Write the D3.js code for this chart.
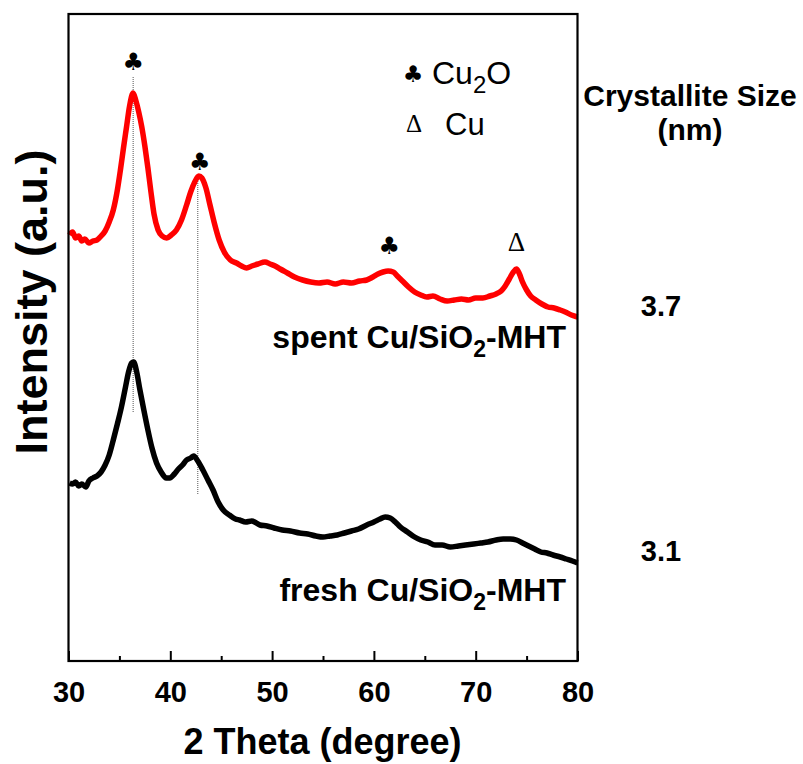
<!DOCTYPE html>
<html><head><meta charset="utf-8">
<script src="https://cdn.jsdelivr.net/npm/d3@7"></script>
<style>body{margin:0;background:#fff}svg{display:block}text{font-family:"Liberation Sans",Arial,sans-serif}</style>
</head><body>
<script>
// ---- DATA ----
const xTicks = [30, 40, 50, 60, 70, 80];
const xMinorTicks = [35, 45, 55, 65, 75];
const spentX = [30.1,30.4,30.7,31.0,31.3,31.6,32.0,32.4,32.8,33.2,33.6,34.0,34.4,34.8,35.1,35.4,35.7,36.0,36.35,36.6,36.9,37.2,37.5,37.8,38.1,38.4,38.8,39.2,39.65,40.1,40.6,41.1,41.6,42.0,42.4,42.8,43.1,43.5,43.9,44.3,44.8,45.3,45.9,46.5,47.0,47.5,48.0,48.6,49.3,49.8,50.3,50.8,51.5,52.2,53.0,53.8,54.6,55.4,56.2,57.0,57.8,58.6,59.3,59.9,60.4,60.9,61.4,61.9,62.3,62.8,63.4,64.0,64.6,65.2,65.8,66.5,67.2,67.9,68.6,69.3,70.0,70.7,71.4,72.0,72.5,72.9,73.3,73.7,74.0,74.3,74.6,75.0,75.4,75.9,76.5,77.1,77.7,78.3,78.8,79.4,80.0];
const spentY = [426,429,423,425,420,422,418,420,421,425,430,439,451,471,491,513,534,555,568,561,549,534,515,493,469,447,431,425,423,426,431,441,456,469,479,485,483,473,456,439,421,409,401,398,395,393,395,397,399,397,395,392,388,384,381,379,378,379,377,379,378,380,381,384,387,389,390,389,385,380,374,369,366,364,365,362,360,361,362,361,363,363,365,367,370,375,382,389,392,387,379,371,365,361,357,354,353,351,349,346,344];
const freshX = [30.1,30.4,30.7,31.0,31.3,31.7,32.0,32.4,32.8,33.2,33.6,34.0,34.4,34.8,35.2,35.6,35.9,36.2,36.4,36.7,37.0,37.4,37.8,38.2,38.65,39.1,39.6,39.95,40.4,40.8,41.2,41.6,42.0,42.3,42.7,43.2,43.7,44.2,44.7,45.2,45.8,46.4,46.8,47.4,48.0,48.8,49.5,50.2,51.0,51.8,52.7,53.5,54.3,55.0,55.7,56.4,57.1,57.8,58.5,59.3,60.0,60.6,61.1,61.6,62.1,62.6,63.3,64.0,64.6,65.3,66.0,66.7,67.5,68.3,69.0,69.8,70.5,71.2,72.0,72.7,73.4,74.0,74.6,75.2,75.8,76.4,77.0,77.6,78.3,78.9,79.5,80.0];
const freshY = [178,177,179,175,177,174,180,183,185,189,196,206,221,237,254,274,289,298,299,289,272,251,231,213,198,189,183,183,187,192,196,201,203,205,200,191,181,171,159,151,146,142,141,139,140,136,135,133,131,130,128,127,125,124,125,126,128,130,132,136,139,142,144,143,139,134,129,124,121,119,116,116,114,115,116,117,118,119,121,122,122,121,118,115,112,109,108,106,104,102,100,98];
const refLinesX = [36.35, 42.7];
const refLinesY0 = [249, 166];
const refLinesY1 = [584, 486];
const clubX = [36.35, 42.9, 61.5];
const clubY = [599, 499, 415];
const deltaX = [74.0];
const deltaY = [419];
const sampleNames = ["spent Cu/SiO", "fresh Cu/SiO"];
const crystalSizes = ["3.7", "3.1"];

// ---- LAYOUT ----
const W = 803, H = 764;
const L = 68.5, R = 577.5, T = 14, B = 661;
const svg = d3.select("body").append("svg").attr("width", W).attr("height", H);
const x = d3.scaleLinear().domain([30, 80]).range([L, R]);
const y = d3.scaleLinear().domain([0, 647]).range([B, T]);

// reference dotted lines
svg.selectAll(".ref").data(refLinesX).join("line")
  .attr("x1", d => x(d)).attr("x2", d => x(d))
  .attr("y1", (d, i) => y(refLinesY1[i])).attr("y2", (d, i) => y(refLinesY0[i]))
  .attr("stroke", "#555").attr("stroke-width", 1).attr("stroke-dasharray", "1,1");

const line = d3.line().x(d => x(d[0])).y(d => y(d[1])).curve(d3.curveMonotoneX);
svg.append("path").datum(spentX.map((v, i) => [v, spentY[i]]))
  .attr("d", line).attr("fill", "none").attr("stroke", "#ff0000").attr("stroke-width", 5.5).attr("stroke-linejoin", "round");
svg.append("path").datum(freshX.map((v, i) => [v, freshY[i]]))
  .attr("d", line).attr("fill", "none").attr("stroke", "#000").attr("stroke-width", 5.5).attr("stroke-linejoin", "round");

// frame
svg.append("rect").attr("x", L).attr("y", T).attr("width", R - L).attr("height", B - T)
  .attr("fill", "none").attr("stroke", "#000").attr("stroke-width", 2.2);

// x axis
const ax = svg.append("g").attr("transform", `translate(0,${B})`)
  .call(d3.axisBottom(x).tickValues(xTicks).tickSize(-10).tickPadding(20).tickFormat(d3.format("d")));
ax.select(".domain").remove();
ax.selectAll(".tick line").attr("stroke-width", 2);
ax.selectAll(".tick text").attr("font-size", 29).attr("font-weight", "bold")
  .attr("font-family", "Liberation Sans, Arial, sans-serif").attr("fill", "#000");
const axm = svg.append("g").attr("transform", `translate(0,${B})`)
  .call(d3.axisBottom(x).tickValues(xMinorTicks).tickSize(-5).tickFormat(""));
axm.select(".domain").remove();
axm.selectAll(".tick line").attr("stroke-width", 2);

// axis titles
svg.append("text").attr("x", (L + R) / 2 - 0.5).attr("y", 754).attr("text-anchor", "middle")
  .attr("font-size", 36).attr("font-weight", "bold").text("2 Theta (degree)");
svg.append("text").attr("transform", "translate(47,302) rotate(-90)").attr("text-anchor", "middle")
  .attr("font-size", 45).attr("font-weight", "bold").text("Intensity (a.u.)");

// peak markers
svg.selectAll(".club").data(clubX).join("text")
  .attr("x", d => x(d)).attr("y", (d, i) => y(clubY[i]) + 8).attr("text-anchor", "middle")
  .attr("font-size", 24).style("font-family", "DejaVu Sans").text("\u2663");
svg.selectAll(".delta").data(deltaX).join("text")
  .attr("x", d => x(d)).attr("y", (d, i) => y(deltaY[i]) + 9).attr("text-anchor", "middle")
  .attr("font-size", 27).style("font-family", "Liberation Serif").text("\u0394");

// legend
svg.append("text").attr("x", 413).attr("y", 82).attr("text-anchor", "middle")
  .attr("font-size", 23).style("font-family", "DejaVu Sans").text("\u2663");
const lg1 = svg.append("text").attr("x", 432).attr("y", 84).attr("font-size", 32);
lg1.append("tspan").text("Cu");
lg1.append("tspan").attr("font-size", 24).attr("dy", 9).text("2");
lg1.append("tspan").attr("dy", -9).text("O");
svg.append("text").attr("x", 414).attr("y", 132).attr("text-anchor", "middle")
  .attr("font-size", 25).style("font-family", "Liberation Serif").text("\u0394");
svg.append("text").attr("x", 445).attr("y", 135).attr("font-size", 31).text("Cu");

// sample labels
const labY = [348, 601];
sampleNames.forEach((nm, i) => {
  const t = svg.append("text").attr("x", 566).attr("y", labY[i]).attr("text-anchor", "end")
    .attr("font-size", 32).attr("font-weight", "bold");
  t.append("tspan").text(nm);
  t.append("tspan").attr("font-size", 23).attr("dy", 9).text("2");
  t.append("tspan").attr("dy", -9).text("-MHT");
});

// crystallite size
svg.append("text").attr("x", 690).attr("y", 106).attr("text-anchor", "middle")
  .attr("font-size", 30).attr("font-weight", "bold").text("Crystallite Size");
svg.append("text").attr("x", 690).attr("y", 140).attr("text-anchor", "middle")
  .attr("font-size", 30).attr("font-weight", "bold").text("(nm)");
const sizeY = [316, 561];
crystalSizes.forEach((s, i) => {
  svg.append("text").attr("x", 661).attr("y", sizeY[i]).attr("text-anchor", "middle")
    .attr("font-size", 29).attr("font-weight", "bold").text(s);
});
</script>
</body></html>
